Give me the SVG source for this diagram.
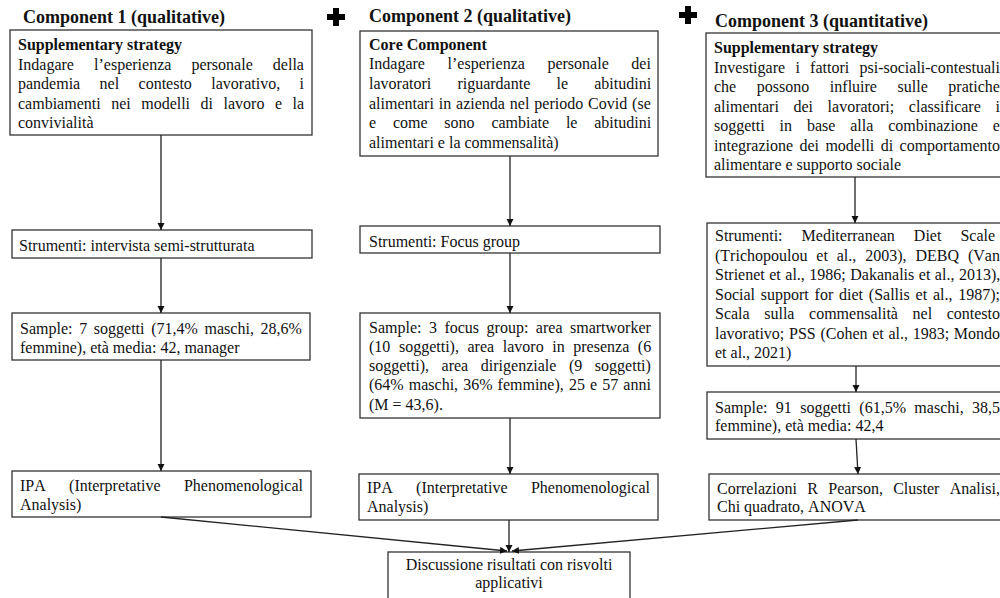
<svg xmlns="http://www.w3.org/2000/svg" width="1000" height="598" viewBox="0 0 1000 598">
<style>
.bx{fill:#fff;stroke:#333;stroke-width:1.3}
.t{font-family:"Liberation Serif","Times New Roman",serif;font-size:16px;fill:#111;font-kerning:none}
.b{font-weight:bold}
.h{font-family:"Liberation Serif","Times New Roman",serif;font-size:18px;font-weight:bold;fill:#111}
.c{text-anchor:middle}
.ln{fill:none;stroke:#222;stroke-width:1.3}
.plus{fill:#000}
</style>
<defs>
<marker id="ah" markerUnits="userSpaceOnUse" markerWidth="8" markerHeight="8" refX="7" refY="3.5" orient="auto">
<path d="M0,0 L7,3.5 L0,7 z" fill="#111"/>
</marker>
</defs>
<rect width="1000" height="598" fill="#fff"/>

<g id="titles">
<text class="h" x="23" y="23">Component 1 (qualitative)</text>
<text class="h" x="369" y="22">Component 2 (qualitative)</text>
<text class="h" x="715" y="27">Component 3 (quantitative)</text>
<path class="plus" d="M333,8 h6 v6 h6 v6 h-6 v6 h-6 v-6 h-6 v-6 h6 z"/>
<path class="plus" d="M685,6 h6 v6 h6 v6 h-6 v6 h-6 v-6 h-6 v-6 h6 z"/>
</g>

<g id="c1-aim">
<rect class="bx" x="10" y="30" width="302" height="105"/>
<text class="t b" x="18" y="50">Supplementary strategy</text>
<text class="t" x="18" y="69.5" word-spacing="16.1">Indagare l’esperienza personale della</text>
<text class="t" x="18" y="89" word-spacing="15.4">pandemia nel contesto lavorativo, i</text>
<text class="t" x="18" y="108.5" word-spacing="6.5">cambiamenti nei modelli di lavoro e la</text>
<text class="t" x="18" y="128">convivialità</text>
</g>

<g id="c1-tools">
<rect class="bx" x="12" y="230" width="300" height="28"/>
<text class="t" x="19" y="251">Strumenti: intervista semi-strutturata</text>
</g>

<g id="c1-sample">
<rect class="bx" x="12" y="313" width="298" height="47"/>
<text class="t" x="20" y="334" word-spacing="2.7">Sample: 7 soggetti (71,4% maschi, 28,6%</text>
<text class="t" x="20" y="353">femmine), età media: 42, manager</text>
</g>

<g id="c1-ipa">
<rect class="bx" x="12" y="471" width="299" height="46"/>
<text class="t" x="20" y="491" word-spacing="19.3">IPA (Interpretative Phenomenological</text>
<text class="t" x="20" y="510">Analysis)</text>
</g>

<g id="c2-core">
<rect class="bx" x="360" y="31" width="298" height="125"/>
<text class="t b" x="369" y="50">Core Component</text>
<text class="t" x="369" y="69" word-spacing="18.6">Indagare l’esperienza personale dei</text>
<text class="t" x="369" y="89" word-spacing="22.2">lavoratori riguardante le abitudini</text>
<text class="t" x="369" y="109" word-spacing="0.9">alimentari in azienda nel periodo Covid (se</text>
<text class="t" x="369" y="128" word-spacing="12.8">e come sono cambiate le abitudini</text>
<text class="t" x="369" y="148">alimentari e la commensalità)</text>
</g>

<g id="c2-tools">
<rect class="bx" x="360" y="226" width="300" height="27"/>
<text class="t" x="369" y="247">Strumenti: Focus group</text>
</g>

<g id="c2-sample">
<rect class="bx" x="360" y="313" width="300" height="105"/>
<text class="t" x="369" y="333" word-spacing="3.5">Sample: 3 focus group: area smartworker</text>
<text class="t" x="369" y="352" word-spacing="4.6">(10 soggetti), area lavoro in presenza (6</text>
<text class="t" x="369" y="371" word-spacing="8.6">soggetti), area dirigenziale (9 soggetti)</text>
<text class="t" x="369" y="390" word-spacing="1.1">(64% maschi, 36% femmine), 25 e 57 anni</text>
<text class="t" x="369" y="410">(M = 43,6).</text>
</g>

<g id="c2-ipa">
<rect class="bx" x="359" y="474" width="299" height="46"/>
<text class="t" x="367" y="493" word-spacing="19.3">IPA (Interpretative Phenomenological</text>
<text class="t" x="367" y="512">Analysis)</text>
</g>

<g id="c3-aim">
<rect class="bx" x="706" y="33" width="302" height="144"/>
<text class="t b" x="714" y="53">Supplementary strategy</text>
<text class="t" x="714" y="72.5" word-spacing="6.3">Investigare i fattori psi-sociali-contestuali</text>
<text class="t" x="714" y="92" word-spacing="16.6">che possono influire sulle pratiche</text>
<text class="t" x="714" y="112" word-spacing="10.6">alimentari dei lavoratori; classificare i</text>
<text class="t" x="714" y="131" word-spacing="10.9">soggetti in base alla combinazione e</text>
<text class="t" x="714" y="151" word-spacing="2.4">integrazione dei modelli di comportamento</text>
<text class="t" x="714" y="170">alimentare e supporto sociale</text>
</g>

<g id="c3-tools">
<rect class="bx" x="707" y="223" width="301" height="143"/>
<text class="t" x="715" y="241" word-spacing="15">Strumenti: Mediterranean Diet Scale</text>
<text class="t" x="715" y="260.5" word-spacing="4.9">(Trichopoulou et al., 2003), DEBQ (Van</text>
<text class="t" x="715" y="280" word-spacing="0.5">Strienet et al., 1986; Dakanalis et al., 2013),</text>
<text class="t" x="715" y="299.5" word-spacing="1.8">Social support for diet (Sallis et al., 1987);</text>
<text class="t" x="715" y="319" word-spacing="10.6">Scala sulla commensalità nel contesto</text>
<text class="t" x="715" y="338.5" word-spacing="0.7">lavorativo; PSS (Cohen et al., 1983; Mondo</text>
<text class="t" x="715" y="358">et al., 2021)</text>
</g>

<g id="c3-sample">
<rect class="bx" x="707" y="392" width="301" height="47"/>
<text class="t" x="715" y="413" word-spacing="4.4">Sample: 91 soggetti (61,5% maschi, 38,5</text>
<text class="t" x="715" y="431">femmine), età media: 42,4</text>
</g>

<g id="c3-analysis">
<rect class="bx" x="709" y="474" width="299" height="46"/>
<text class="t" x="717" y="494" word-spacing="6.3">Correlazioni R Pearson, Cluster Analisi,</text>
<text class="t" x="717" y="512">Chi quadrato, ANOVA</text>
</g>

<g id="discussion">
<rect class="bx" x="388" y="552" width="242" height="50"/>
<text class="t c" x="509" y="570">Discussione risultati con risvolti</text>
<text class="t c" x="509" y="588">applicativi</text>
</g>

<g id="connectors">
<path class="ln" marker-end="url(#ah)" d="M161,135 V230"/>
<path class="ln" marker-end="url(#ah)" d="M161,258 V313"/>
<path class="ln" marker-end="url(#ah)" d="M161,360 V471"/>
<path class="ln" marker-end="url(#ah)" d="M161,517 L507,551"/>
<path class="ln" marker-end="url(#ah)" d="M510,156 V226"/>
<path class="ln" marker-end="url(#ah)" d="M510,253 V313"/>
<path class="ln" marker-end="url(#ah)" d="M510,418 V474"/>
<path class="ln" marker-end="url(#ah)" d="M509,520 V552"/>
<path class="ln" marker-end="url(#ah)" d="M855,177 V223"/>
<path class="ln" marker-end="url(#ah)" d="M856,366 V392"/>
<path class="ln" marker-end="url(#ah)" d="M856,439 L858,474"/>
<path class="ln" marker-end="url(#ah)" d="M858,520 L512,551"/>
</g>
</svg>
